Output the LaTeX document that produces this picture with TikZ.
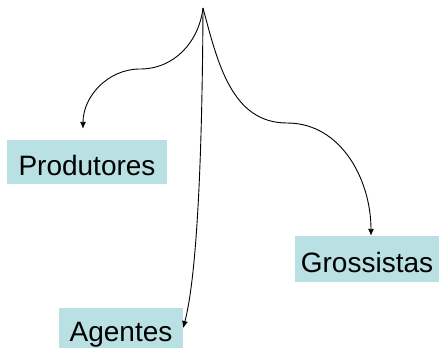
\documentclass[tikz,border=0pt]{standalone}
\usepackage{fontspec}
\setmainfont{Liberation Sans}
\usepackage{tikz}
\usetikzlibrary{arrows,
	arrows.meta,
	calc}
\definecolor{paleteal}{RGB}{185,224,227}

\begin{document}
\begin{tikzpicture}[x=1pt,y=-1pt]
      \tikzstyle{canal}=[fill=paleteal,inner sep=0pt,text height=26pt,text depth=0pt,font=\fontsize{28}{30}\selectfont]
      \tikzstyle{fluxo}=[line width=0.9pt,-{Latex[length=7pt,width=6pt]}]
      \useasboundingbox (0,0) rectangle (439,348);
      \coordinate (origem) at (203,8);
      \coordinate (curva_p) at (140,69);
      \coordinate (curva_g) at (287,123);
      \node[canal,minimum width=160pt,minimum height=44pt] (produtores) at (87,162) {Produtores};
      \node[canal,minimum width=124pt,minimum height=40pt] (agentes) at (121,328) {Agentes};
      \node[canal,minimum width=144pt,minimum height=46pt] (grossistas) at (367,259) {Grossistas};
      \draw[fluxo] (origem) to[out=-97,in=0] (curva_p) to[out=180,in=90] ($(produtores.north)+(-4,-11)$);
      \draw[fluxo] (origem) .. controls ($(origem)+(-1,190)$) and ($(agentes.east)+(11,-42)$) .. (agentes.east);
      \draw[fluxo] (origem) to[out=-75,in=180] (curva_g) to[out=0,in=90] ($(grossistas.north)+(4,0)$);
    \end{tikzpicture}
\end{document}
